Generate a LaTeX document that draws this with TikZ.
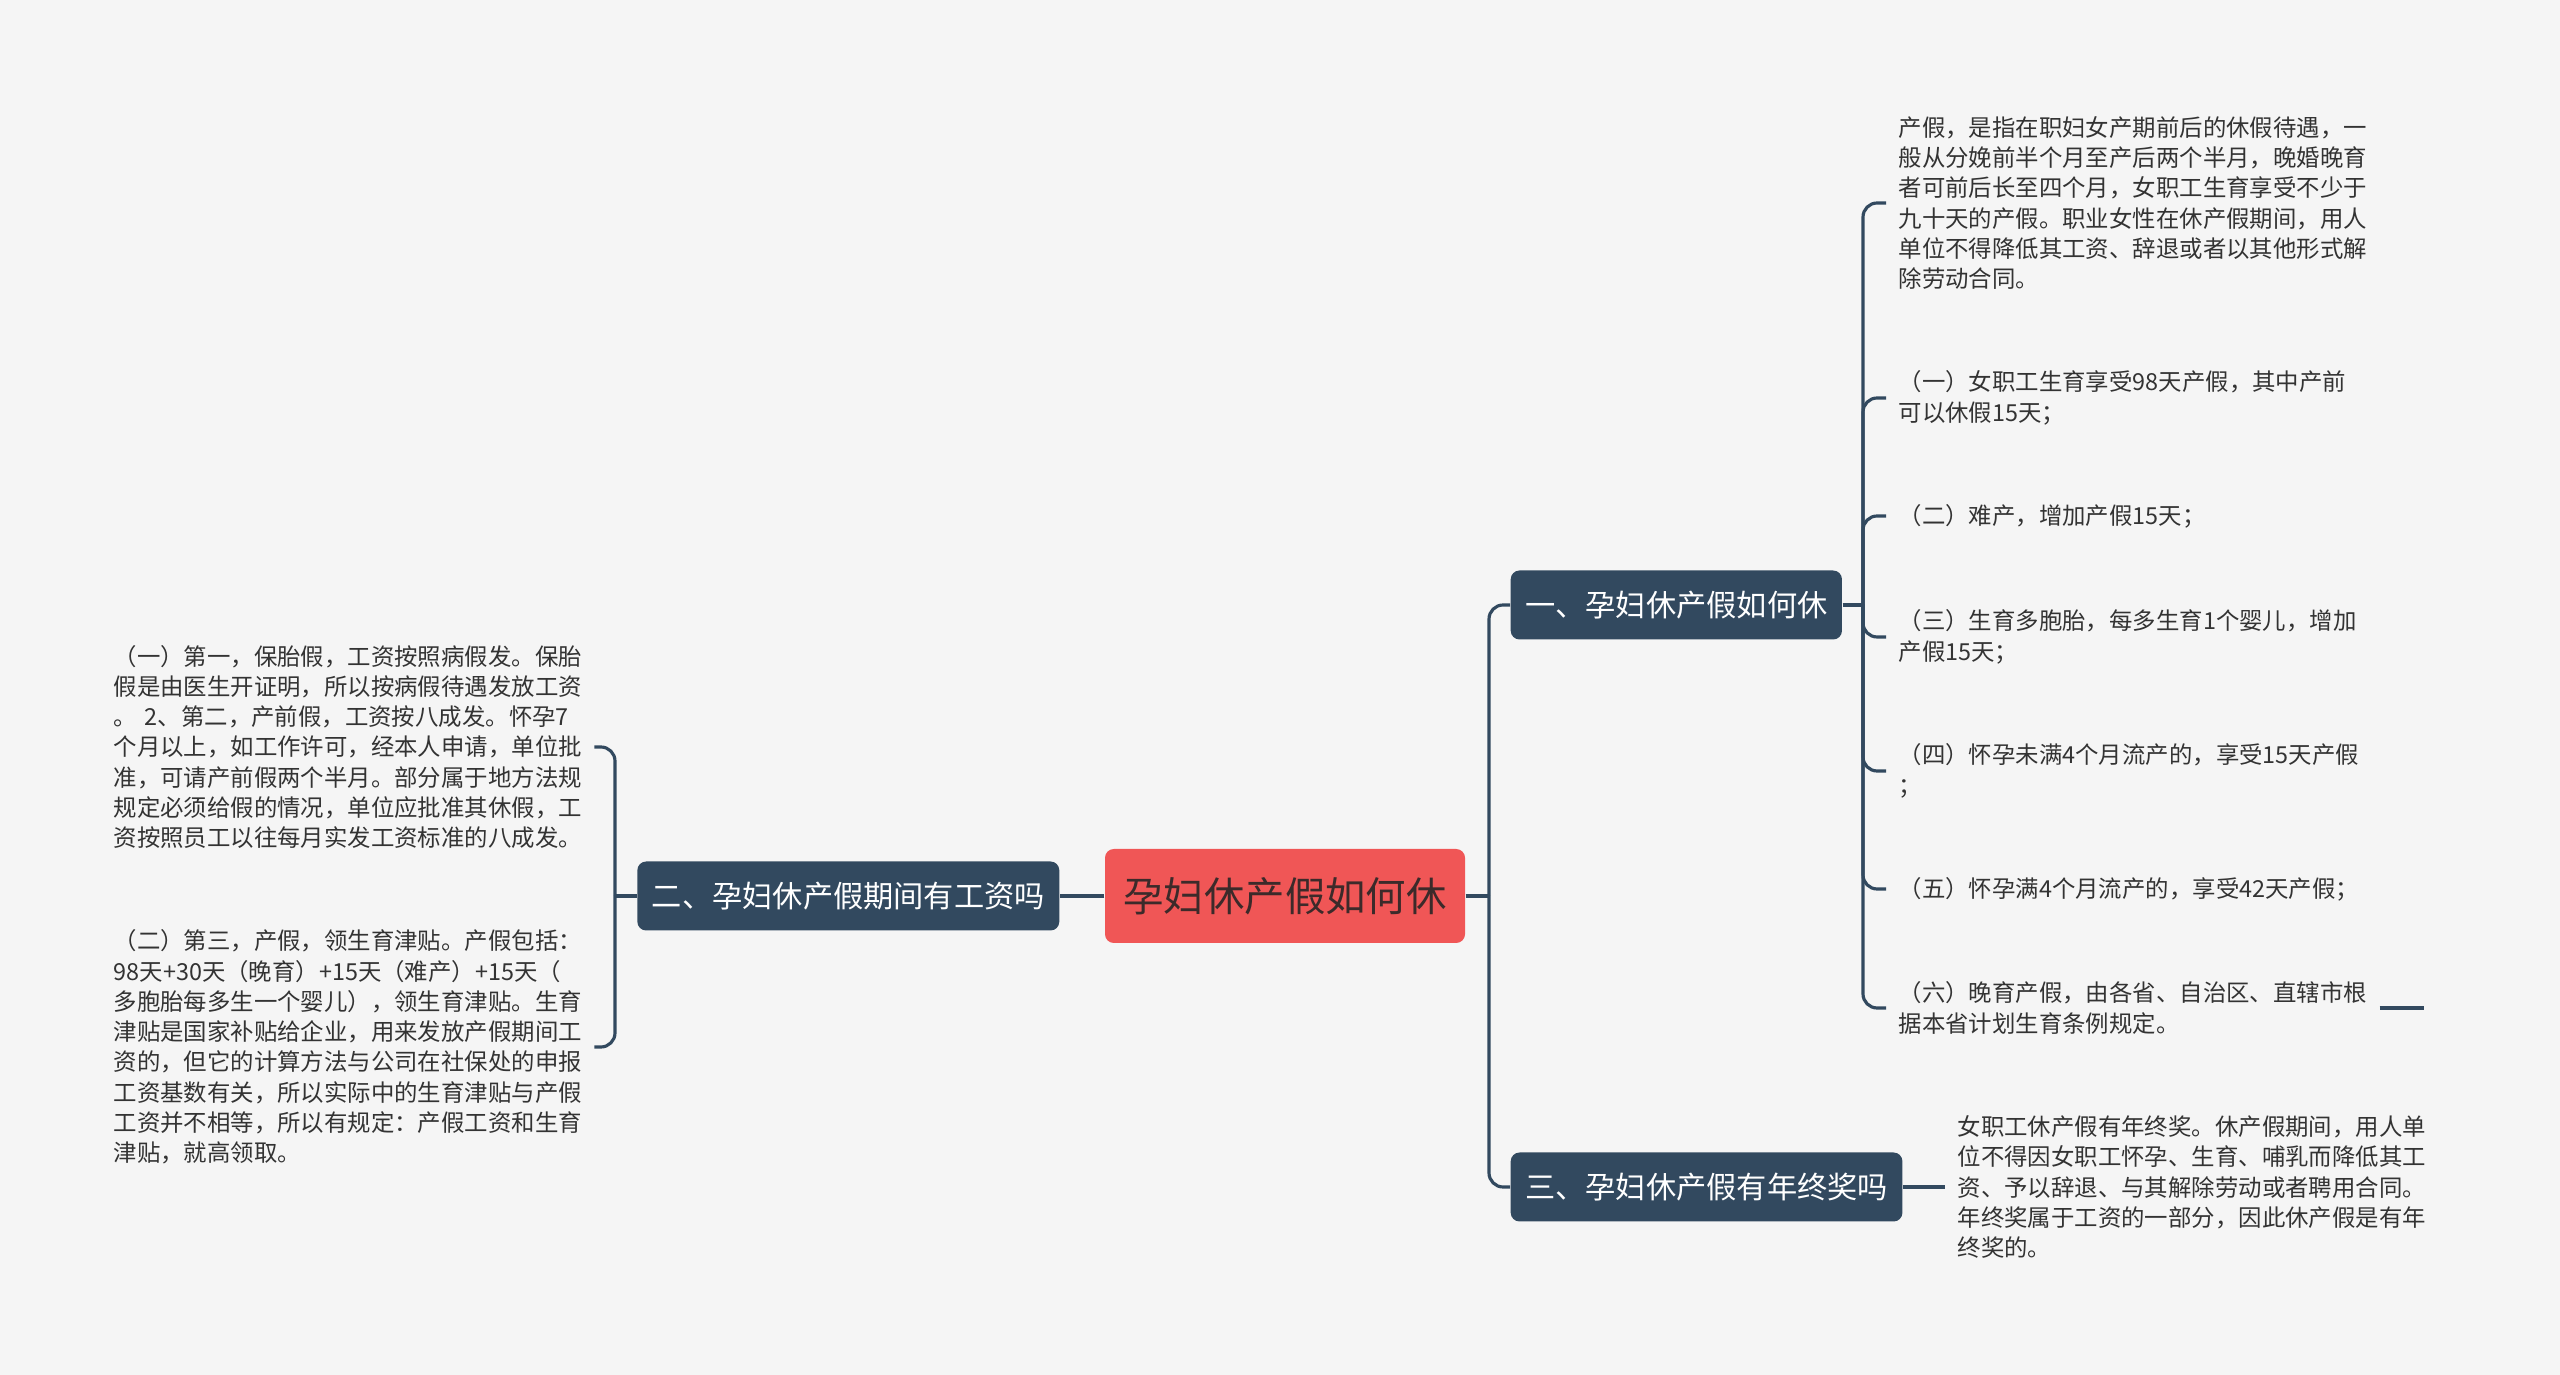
\documentclass[tikz,border=0pt]{standalone}
\usepackage{fontspec}
\setmainfont{Noto Sans CJK SC}
\definecolor{bgcol}{HTML}{F5F5F5}
\definecolor{navy}{HTML}{32495F}
\definecolor{rootred}{HTML}{F05656}
\definecolor{rootink}{HTML}{3C2A2A}
\definecolor{leafink}{HTML}{333333}
\begin{document}
\begin{tikzpicture}[
  mainbox/.style={rectangle, rounded corners=2.5pt, fill=rootred, text=rootink, minimum width=3.6cm, minimum height=0.94cm, font=\fontsize{11.5pt}{13pt}\selectfont},
  topic/.style={rectangle, rounded corners=2.5pt, fill=navy, text=white, inner xsep=0.145cm, minimum height=0.69cm, font=\fontsize{8.6pt}{10pt}\selectfont},
  leaf/.style={align=left, text=leafink, inner xsep=0.12cm, inner ysep=0pt, font=\fontsize{6.66pt}{8.62pt}\selectfont},
  link/.style={draw=navy, line width=0.9pt},
  hook/.style={link, rounded corners=4pt}
]
\fill[bgcol] (0,0) rectangle (25.6,-13.75);
\useasboundingbox (0,0) rectangle (25.6,-13.75);

% Central topic
\node[mainbox] (root) at (12.85,-8.96) {孕妇休产假如何休};

% Main branches
\node[topic, anchor=west] (b1) at (15.10,-6.05) {一、孕妇休产假如何休};
\node[topic, anchor=east] (b2) at (10.60,-8.96) {二、孕妇休产假期间有工资吗};
\node[topic, anchor=west] (b3) at (15.10,-11.87) {三、孕妇休产假有年终奖吗};

% Junctions
\coordinate (jr) at (14.89,-8.96);
\coordinate (jl) at (6.15,-8.96);
\coordinate (j1) at (18.63,-6.05);

% Leaves of branch 1
\node[leaf, anchor=west] (r1) at (18.86,-2.03) {产假，是指在职妇女产期前后的休假待遇，一\\般从分娩前半个月至产后两个半月，晚婚晚育\\者可前后长至四个月，女职工生育享受不少于\\九十天的产假。职业女性在休产假期间，用人\\单位不得降低其工资、辞退或者以其他形式解\\除劳动合同。};
\node[leaf, anchor=west] (r2) at (18.86,-3.98) {（一）女职工生育享受98天产假，其中产前\\可以休假15天；};
\node[leaf, anchor=west] (r3) at (18.86,-5.16) {（二）难产，增加产假15天；};
\node[leaf, anchor=west] (r4) at (18.86,-6.37) {（三）生育多胞胎，每多生育1个婴儿，增加\\产假15天；};
\node[leaf, anchor=west] (r5) at (18.86,-7.71) {（四）怀孕未满4个月流产的，享受15天产假\\；};
\node[leaf, anchor=west] (r6) at (18.86,-8.89) {（五）怀孕满4个月流产的，享受42天产假；};
\node[leaf, anchor=west] (r7) at (18.86,-10.08) {（六）晚育产假，由各省、自治区、直辖市根\\据本省计划生育条例规定。};
\coordinate (r7tail) at ([xshift=0.44cm]r7.east);

% Leaves of branch 2
\node[leaf, anchor=west, text width=4.68cm] (l1) at (1.01,-7.47) {（一）第一，保胎假，工资按照病假发。保胎\\假是由医生开证明，所以按病假待遇发放工资\\。 2、第二，产前假，工资按八成发。怀孕7\\个月以上，如工作许可，经本人申请，单位批\\准，可请产前假两个半月。部分属于地方法规\\规定必须给假的情况，单位应批准其休假，工\\资按照员工以往每月实发工资标准的八成发。};
\node[leaf, anchor=west, text width=4.68cm] (l2) at (1.01,-10.47) {（二）第三，产假，领生育津贴。产假包括：\\98天+30天（晚育）+15天（难产）+15天（\\多胞胎每多生一个婴儿），领生育津贴。生育\\津贴是国家补贴给企业，用来发放产假期间工\\资的，但它的计算方法与公司在社保处的申报\\工资基数有关，所以实际中的生育津贴与产假\\工资并不相等，所以有规定：产假工资和生育\\津贴，就高领取。};

% Leaf of branch 3
\node[leaf, anchor=west] (t1) at (19.45,-11.87) {女职工休产假有年终奖。休产假期间，用人单\\位不得因女职工怀孕、生育、哺乳而降低其工\\资、予以辞退、与其解除劳动或者聘用合同。\\年终奖属于工资的一部分，因此休产假是有年\\终奖的。};

% Connectors
\draw[link] (root.east) -- (jr);
\draw[hook] (jr) |- (b1.west);
\draw[hook] (jr) |- (b3.west);
\draw[link] (root.west) -- (b2.east);

\draw[link] (b2.west) -- (jl);
\draw[hook] (jl) |- (l1.east);
\draw[hook] (jl) |- (l2.east);

\draw[link] (b1.east) -- (j1);
\foreach \leaf in {r1,r2,r3,r4,r5,r6,r7}
  \draw[hook] (j1) |- (\leaf.west);
\draw[link] (r7.east) -- (r7tail);

\draw[link] (b3.east) -- (t1.west);

\end{tikzpicture}
\end{document}
